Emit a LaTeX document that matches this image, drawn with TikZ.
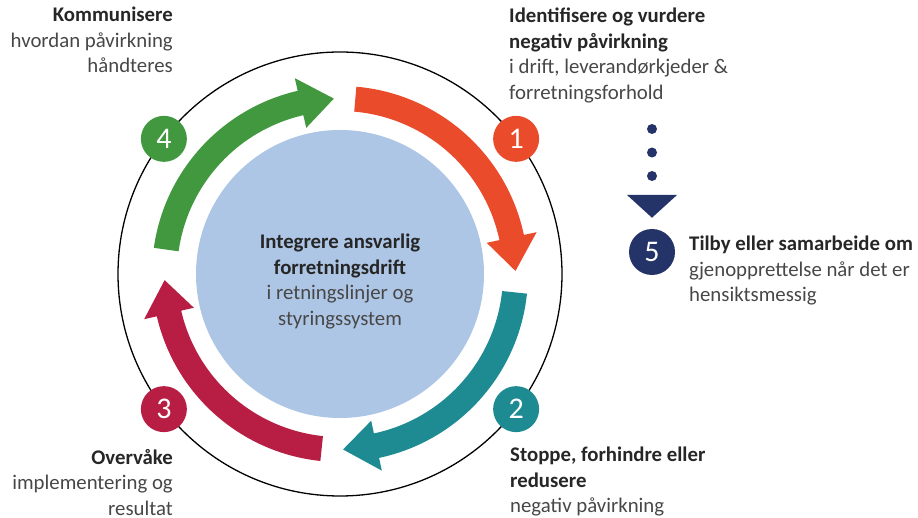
\documentclass[tikz,border=0pt]{standalone}
\usepackage{fontspec}
\setmainfont{Carlito}
\usetikzlibrary{arrows.meta}
\definecolor{stepred}{HTML}{E94B2B}
\definecolor{stepteal}{HTML}{1E8B92}
\definecolor{stepcrimson}{HTML}{B81E43}
\definecolor{stepgreen}{HTML}{41983F}
\definecolor{stepnavy}{HTML}{243368}
\definecolor{corefill}{HTML}{AEC6E5}
\definecolor{textgrey}{HTML}{474747}
\tikzstyle{numbox} = [circle, minimum size=46pt, inner sep=0pt, text=white,
    font=\fontsize{30}{30}\selectfont]
\tikzstyle{steptext} = [inner sep=0pt, text=textgrey,
    font=\fontsize{20.8}{25.5}\selectfont]
\tikzstyle{dotline} = [stepnavy, line width=10pt, line cap=round,
    dash pattern=on 0pt off 23.5pt, shorten >=11pt,
    -{Triangle[width=49pt,length=23pt]}]
% curved arrow of the cycle: colour, start angle, tip angle
\newcommand{\ringarrow}[3]{%
    \fill[#1] (#2:188pt) arc[start angle=#2, end angle=#3+11, radius=188pt]
        -- (#3+11:201pt) -- (#3:175.5pt) -- (#3+11:150pt) -- (#3+11:163pt)
        arc[start angle=#3+11, end angle=#2, radius=163pt] -- cycle;}

\begin{document}
\begin{tikzpicture}[x=1pt,y=1pt]
    \useasboundingbox (0,0) rectangle (918,517);
    \begin{scope}[shift={(340,243)}]
        \fill[corefill] (0,0) circle[radius=144pt];
        \draw[line width=1.3pt] (0,0) circle[radius=222pt];
        \ringarrow{stepred}{85}{1}
        \ringarrow{stepteal}{-6}{-89}
        \ringarrow{stepcrimson}{-96}{-178}
        \ringarrow{stepgreen}{172}{92}
        \node[numbox, fill=stepred] (one) at (37.5:222pt) {1};
        \node[numbox, fill=stepteal] (two) at (-37.5:222pt) {2};
        \node[numbox, fill=stepcrimson] (three) at (217.5:222pt) {3};
        \node[numbox, fill=stepgreen] (four) at (142.5:222pt) {4};
        \node[steptext, align=center, anchor=north] (core) at (0,40)
            {\textbf{\color{black!85}Integrere ansvarlig}\\
             \textbf{\color{black!85}forretningsdrift}\\
             i retningslinjer og\\styringssystem};
    \end{scope}

    \node[steptext, align=right, anchor=north east] (communicate) at (173,510)
        {\textbf{\color{black!85}Kommunisere}\\hvordan påvirkning\\håndteres};
    \node[steptext, align=left, anchor=north west] (identify) at (509,509)
        {\textbf{\color{black!85}Identifisere og vurdere}\\
         \textbf{\color{black!85}negativ påvirkning}\\
         i drift, leverandørkjeder \&\\forretningsforhold};
    \node[steptext, align=left, anchor=north west] (stop) at (510,70)
        {\textbf{\color{black!85}Stoppe, forhindre eller}\\
         \textbf{\color{black!85}redusere}\\negativ påvirkning};
    \node[steptext, align=right, anchor=north east] (monitor) at (173,68)
        {\textbf{\color{black!85}Overvåke}\\implementering og\\resultat};

    \node[numbox, fill=stepnavy] (five) at (652,265) {5};
    \node[steptext, align=left, anchor=north west] (remedy) at (689,281)
        {\textbf{\color{black!85}Tilby eller samarbeide om}\\
         gjenopprettelse når det er\\hensiktsmessig};
    \coordinate (dotstart) at (652,388);
    \draw[dotline] (dotstart) -- (five.north);
\end{tikzpicture}
\end{document}
